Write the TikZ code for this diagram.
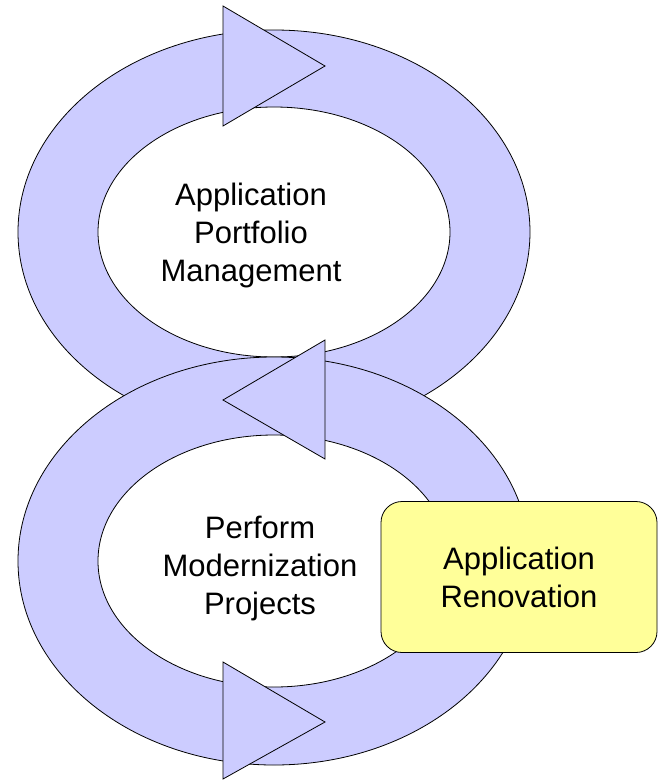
\documentclass[tikz,border=0pt]{standalone}
\usepackage{fontspec}
\setmainfont{Liberation Sans}
\usepackage{tikz}
\definecolor{ringblue}{RGB}{204,204,255}
\definecolor{boxyellow}{RGB}{255,255,153}

\begin{document}
\begin{tikzpicture}[x=1pt,y=-1pt]
\tikzstyle{every node}+=[inner sep=0pt, font=\fontsize{31}{38}\selectfont, align=center]
\tikzstyle{ring}=[draw=black, fill=ringblue, even odd rule, line width=0.8pt]
\tikzstyle{headtri}=[draw=black, fill=ringblue, line width=0.8pt, line join=miter]
\useasboundingbox (0,0) rectangle (662,780);
% upper loop
\draw [ring] (274,232) ellipse [x radius=256pt, y radius=202pt]
             (274,232) ellipse [x radius=176pt, y radius=125pt];
% lower loop
\draw [ring] (274,561) ellipse [x radius=256pt, y radius=204pt]
             (274,561) ellipse [x radius=176pt, y radius=126pt];
% arrow heads on the loops
\draw [headtri] (223,6) -- (325,66) -- (223,126) -- cycle;
\draw [headtri] (325,340) -- (223,400) -- (325,459) -- cycle;
\draw [headtri] (223,662) -- (325,722) -- (223,779) -- cycle;
% labels
\node (apm) at (251,235) {Application\\Portfolio\\Management};
\node (pmp) at (260,568) {Perform\\Modernization\\Projects};
\node [draw=black, fill=boxyellow, rounded corners=21pt, minimum width=276pt,
       minimum height=151pt, line width=0.8pt] (renov) at (519,577) {Application\\Renovation};
\end{tikzpicture}
\end{document}
